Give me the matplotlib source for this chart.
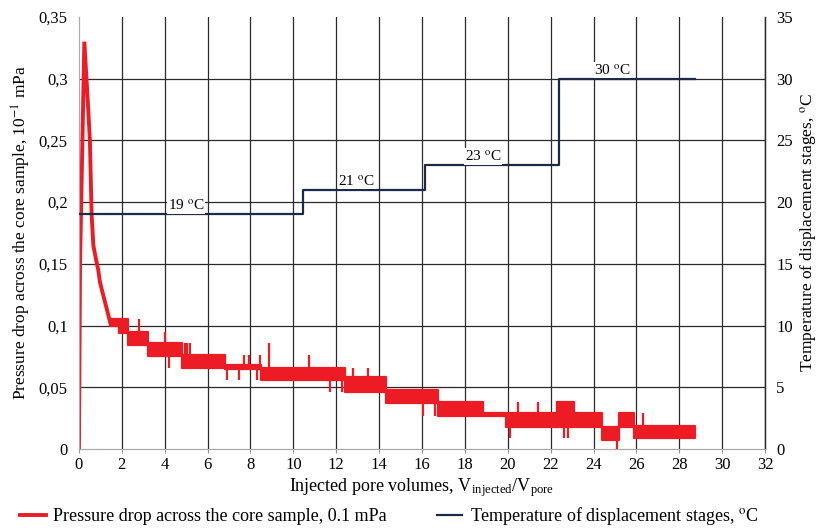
import matplotlib
matplotlib.use("Agg")
from matplotlib import pyplot as plt
from matplotlib.lines import Line2D
import numpy as np

plt.rcParams["font.family"] = ["Liberation Serif", "DejaVu Serif"]
plt.rcParams["mathtext.fontset"] = "stix"

red = "#ed1c24"
navy = "#1b2a4b"

# initial pressure peak (injected PV, pressure)
peak_x = [0.0, 0.05, 0.25, 0.40, 0.51, 0.59, 0.67, 0.78, 0.90, 0.98, 1.20, 1.45]
peak_y = [0.0, 0.15, 0.33, 0.285, 0.25, 0.19, 0.165, 0.155, 0.145, 0.135, 0.12, 0.103]

# fluctuating pressure band: segment start, low, high
band_x = [1.45, 1.85, 2.3, 3.2, 4.8, 6.8, 8.5, 12.4, 14.3, 16.75, 18.85, 19.9, 22.3, 23.1, 24.4, 25.2, 25.9, 28.75]
band_lo = [0.100, 0.094, 0.084, 0.075, 0.066, 0.065, 0.056, 0.046, 0.037, 0.027, 0.027, 0.018, 0.018, 0.018, 0.007, 0.018, 0.009, 0.009]
band_hi = [0.105, 0.105, 0.095, 0.086, 0.076, 0.068, 0.066, 0.058, 0.048, 0.038, 0.029, 0.029, 0.038, 0.029, 0.018, 0.029, 0.019, 0.019]

# single spikes out of the band
spike_x = [2.8, 4.0, 4.2, 4.95, 5.05, 5.2, 6.9, 7.45, 7.7, 7.95, 8.3, 8.45, 8.85, 10.75,
           11.7, 12.25, 12.4, 12.8, 13.5, 16.05, 16.6, 20.1, 20.5, 21.4, 22.6, 22.8, 25.1, 26.3]
spike_y = [0.105, 0.095, 0.066, 0.086, 0.086, 0.086, 0.056, 0.056, 0.076, 0.076, 0.056, 0.076, 0.086, 0.076,
           0.046, 0.046, 0.046, 0.066, 0.066, 0.027, 0.027, 0.009, 0.038, 0.038, 0.009, 0.009, 0.0, 0.029]

# temperature stages
temp_x = [0, 10.46, 16.15, 22.4, 28.73]
temp_y = [19, 21, 23, 30, 30]
temp_label_x = [5.0, 12.95, 18.85, 24.87]
temp_label = ["19", "21", "23", "30"]

x_ticks = list(range(0, 34, 2))
y_ticks = [0, 0.05, 0.1, 0.15, 0.2, 0.25, 0.3, 0.35]
y_ticklabels = ["0", "0,05", "0,1", "0,15", "0,2", "0,25", "0,3", "0,35"]
t_ticks = [0, 5, 10, 15, 20, 25, 30, 35]

fig = plt.figure(figsize=(8.2, 5.3), dpi=100)
ax = fig.add_axes([0.0963, 0.1528, 0.8367, 0.8152])
ax2 = ax.twinx()

ax.set_xlim(0, 32)
ax.set_ylim(0, 0.35)
ax2.set_ylim(0, 35)

# grid
for xv in x_ticks[1:]:
    ax.axvline(xv, color="#2a2a2a", lw=0.9, zorder=0)
for yv in y_ticks[1:-1]:
    ax.axhline(yv, color="#2a2a2a", lw=0.9, zorder=0)

# pressure
ax.plot(peak_x, peak_y, color=red, lw=2.8, solid_joinstyle="miter", zorder=3)
ax.fill_between(band_x, band_lo, band_hi, step="post", color=red, lw=1.6, edgecolor=red, zorder=3)
idx = np.searchsorted(band_x, spike_x, side="right") - 1
base = (np.array(band_lo)[idx] + np.array(band_hi)[idx]) / 2
ax.vlines(spike_x, base, spike_y, color=red, lw=1.6, zorder=3)

# temperature
ax2.step(temp_x, temp_y, where="post", color=navy, lw=1.6, zorder=4)
for lx, lt, ty in zip(temp_label_x, temp_label, temp_y):
    ax2.text(lx, ty + 0.1, lt + r" $^{\mathrm{o}}$C", ha="center", va="bottom", fontsize=11,
             bbox=dict(facecolor="white", edgecolor="none", pad=0.5), zorder=5)

ax.set_xticks(x_ticks)
ax.set_yticks(y_ticks)
ax.set_yticklabels(y_ticklabels)
ax2.set_yticks(t_ticks)
ax.tick_params(axis="y", length=0, labelsize=12, pad=8)
ax.tick_params(axis="x", length=3, color="#999999", labelsize=12, pad=3)
ax2.tick_params(axis="y", length=0, labelsize=12, pad=8)

for a in (ax, ax2):
    a.spines["top"].set_visible(False)
    a.spines["left"].set_color("#aaaaaa")
    a.spines["bottom"].set_color("#aaaaaa")
    a.spines["right"].set_color("#2a2a2a")
    a.spines["right"].set_linewidth(0.9)

ax.set_ylabel(r"Pressure drop across the core sample, 10$^{-1}$ mPa", fontsize=12.5, labelpad=4)
ax2.set_ylabel(r"Temperature of displacement stages, $^{\mathrm{o}}$C", fontsize=12.5, labelpad=4)
ax.set_xlabel(r"Injected pore volumes, V$_{\mathregular{injected}}$/V$_{\mathregular{pore}}$", fontsize=13, labelpad=2)

handles = [Line2D([], [], color=red, lw=2.8), Line2D([], [], color=navy, lw=1.6)]
labels = ["Pressure drop across the core sample, 0.1 mPa", r"Temperature of displacement stages, $^{\mathrm{o}}$C"]
fig.legend(handles, labels, loc="lower left", bbox_to_anchor=(0.005, -0.025), ncol=2, frameon=False,
           fontsize=13, handlelength=1.4, columnspacing=2.8, handletextpad=0.4)

fig.savefig("out.png", dpi=100)
